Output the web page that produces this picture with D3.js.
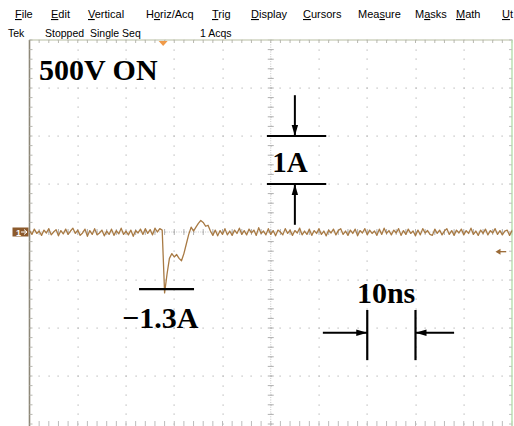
<!DOCTYPE html>
<html><head><meta charset="utf-8">
<script src="https://cdn.jsdelivr.net/npm/d3@7"></script>
<style>
html,body{margin:0;padding:0;background:#fff;}
svg{display:block;}
</style></head>
<body>
<svg id="c" width="514" height="426"></svg>
<script>
// ---------------- data ----------------
const menuItems = ["File","Edit","Vertical","Horiz/Acq","Trig","Display","Cursors","Measure","Masks","Math","Ut"];
const menuX = [15,51,88,146,212,251,303,358,415,456,502];
const menuUnderline = [0,0,0,1,0,0,0,3,1,0,0];
const statusItems = ["Tek","Stopped  Single Seq","1 Acqs"];
const statusX = [8,45,200];

const timeDomain = [0,100];      // ns, 10 ns/div, 10 divisions
const currentDomain = [-4,4];    // A, 1 A/div, 8 divisions
const sampleStep = 0.5;          // ns between samples
const current = [
 0.03,-0.05,0.06,-0.03,0.02,-0.07,0.04,-0.02,0.07,-0.06,
 0.00,0.05,-0.08,0.03,-0.04,0.06,-0.05,0.02,0.08,-0.03,
 0.04,-0.07,-0.02,0.06,-0.09,0.03,-0.05,0.07,-0.06,-0.02,
 0.04,-0.08,0.02,-0.05,0.06,-0.07,0.03,-0.04,0.08,-0.05,
 0.02,-0.06,0.04,-0.09,0.03,-0.02,0.06,-0.05,0.07,-0.03,
 0.05,-0.06,0.08,0.00,0.07,0.04,
 -1.27,-0.88,-0.55,-0.45,-0.52,-0.47,-0.55,-0.60,-0.45,-0.25,-0.05,0.10,0.02,0.10,0.18,0.24,0.20,0.12,0.14,0.02,-0.07,
 0.04,-0.08,0.03,-0.05,0.07,-0.06,0.02,-0.07,0.04,-0.03,
 0.08,-0.05,0.03,-0.06,0.06,-0.02,0.04,-0.07,0.09,-0.03,
 0.02,-0.06,0.07,-0.05,0.03,-0.08,0.04,0.00,-0.06,0.07,
 -0.03,0.04,-0.07,0.03,-0.02,0.08,-0.06,0.02,-0.05,0.06,
 -0.07,0.03,-0.03,0.07,-0.05,0.02,-0.08,0.04,-0.02,0.06,
 -0.06,0.03,0.07,-0.05,0.02,-0.07,0.04,-0.03,0.06,-0.08,
 0.03,-0.02,0.07,-0.06,0.04,-0.03,0.02,-0.07,0.06,-0.05,
 0.08,-0.03,0.03,-0.06,0.04,-0.02,0.07,-0.07,0.03,-0.05,
 0.06,-0.03,0.02,-0.08,0.04,-0.06,0.07,-0.02,0.03,-0.05,
 -0.07,0.06,-0.03,0.04,-0.06,0.02,0.07,-0.05,0.03,-0.07,
 0.04,-0.02,0.06,-0.06,0.03,-0.03,0.08,-0.05,0.02,-0.07,
 0.04,-0.03,0.06,-0.06,0.03,-0.02,0.07,-0.05,0.03,-0.06,
 0.02,0.04,-0.07,0.03
];
const triggerTime = 27.7;

// ---------------- layout ----------------
const svg = d3.select("#c");
const x = d3.scaleLinear().domain(timeDomain).range([29.5,512]);
const y = d3.scaleLinear().domain(currentDomain).range([424,40]);

svg.append("rect").attr("width",514).attr("height",426).attr("fill","#fff");

// menu bar
const menu = svg.append("g").attr("font-family","Liberation Sans, Arial, sans-serif").attr("font-size",11).attr("fill","#000");
menuItems.forEach((m,i)=>{
  const t = menu.append("text").attr("x",menuX[i]).attr("y",18);
  const u = menuUnderline[i];
  if(u>0) t.append("tspan").text(m.slice(0,u));
  t.append("tspan").attr("text-decoration","underline").text(m.slice(u,u+1));
  t.append("tspan").text(m.slice(u+1));
});
const stat = svg.append("g").attr("font-family","Liberation Sans, Arial, sans-serif").attr("font-size",10.5).attr("fill","#000");
statusItems.forEach((s,i)=>{
  stat.append("text").attr("x",statusX[i]).attr("y",37).attr("xml:space","preserve").style("white-space","pre").text(s);
});

// graticule
const grid = svg.append("g");
const dotColor = "#b8b8b8";
const majorT = d3.range(timeDomain[0], timeDomain[1]+0.001, 10);
const majorI = d3.range(currentDomain[0], currentDomain[1]+0.001, 1);
const minorT = d3.range(timeDomain[0], timeDomain[1]+0.001, 2);
const minorI = d3.range(currentDomain[0], currentDomain[1]+0.001, 0.2);
majorT.slice(1,-1).forEach(t=>{
  minorI.forEach(v=>{
    grid.append("rect").attr("x",Math.round(x(t))-0.5).attr("y",Math.round(y(v))-0.5).attr("width",1.2).attr("height",1.2).attr("fill",dotColor);
  });
});
majorI.slice(1).forEach(v=>{
  minorT.forEach(t=>{
    grid.append("rect").attr("x",Math.round(x(t))-0.5).attr("y",Math.round(y(v))-0.5).attr("width",1.2).attr("height",1.2).attr("fill",dotColor);
  });
});
const fineI = d3.range(currentDomain[0], currentDomain[1]+0.001, 0.05);
const fineT = d3.range(timeDomain[0], timeDomain[1]+0.001, 0.5);
fineI.forEach(v=>grid.append("rect").attr("x",x(50)-0.5).attr("y",y(v)-0.5).attr("width",1).attr("height",1).attr("fill","#c4c4c4"));
fineT.forEach(t=>grid.append("rect").attr("x",x(t)-0.5).attr("y",y(0)-0.5).attr("width",1).attr("height",1).attr("fill","#c4c4c4"));
minorI.forEach(v=>grid.append("line").attr("x1",x(50)-3).attr("x2",x(50)+3).attr("y1",y(v)).attr("y2",y(v)).attr("stroke","#b0b0b0").attr("stroke-width",1));
minorT.forEach(t=>grid.append("line").attr("x1",x(t)).attr("x2",x(t)).attr("y1",y(0)-3).attr("y2",y(0)+3).attr("stroke","#b0b0b0").attr("stroke-width",1));
grid.append("line").attr("x1",x(0)).attr("x2",x(100)).attr("y1",y(4)).attr("y2",y(4)).attr("stroke","#cfd3c0").attr("stroke-width",1.5);
minorT.forEach(t=>grid.append("line").attr("x1",x(t)).attr("x2",x(t)).attr("y1",y(4)).attr("y2",y(4)+3).attr("stroke","#b8b8b0").attr("stroke-width",1));
minorT.forEach(t=>grid.append("line").attr("x1",x(t)).attr("x2",x(t)).attr("y1",y(-4)-3).attr("y2",y(-4)+2).attr("stroke","#bcbcbc").attr("stroke-width",1));
grid.append("line").attr("x1",x(0)).attr("x2",x(0)).attr("y1",y(4)).attr("y2",426).attr("stroke","#8e8878").attr("stroke-width",1.6);
minorI.forEach(v=>grid.append("line").attr("x1",x(0)).attr("x2",x(0)+3).attr("y1",y(v)).attr("y2",y(v)).attr("stroke","#b8b8b0").attr("stroke-width",1));
grid.append("line").attr("x1",x(100)).attr("x2",x(100)).attr("y1",y(4)).attr("y2",426).attr("stroke","#bfe3b6").attr("stroke-width",1.6);
minorI.forEach(v=>grid.append("line").attr("x1",x(100)-3).attr("x2",x(100)).attr("y1",y(v)).attr("y2",y(v)).attr("stroke","#c0c0c0").attr("stroke-width",1));

// trigger marker (top)
const tx = x(triggerTime);
svg.append("path").attr("d",`M${tx-4.5},${y(4)+1}L${tx+4.5},${y(4)+1}L${tx},${y(4)+6}Z`).attr("fill","#f09a48");

// channel 1 marker (left)
const cy = y(0);
svg.append("rect").attr("x",12.5).attr("y",cy-4.5).attr("width",16).attr("height",9).attr("fill","#8c5a2c");
svg.append("text").attr("x",16).attr("y",cy+3.5).attr("font-family","Liberation Sans, Arial, sans-serif").attr("font-size",9).attr("font-weight","bold").attr("fill","#fff").text("1");
svg.append("path").attr("d",`M21,${cy}L27,${cy}M24,${cy-2.5}L27,${cy}L24,${cy+2.5}`).attr("stroke","#fff").attr("stroke-width",1).attr("fill","none");

// right-side arrow marker
const ry = y(-0.41);
svg.append("path").attr("d",`M${x(98.8)},${ry}L${x(97.2)-1},${ry}`).attr("stroke","#9a6a36").attr("stroke-width",1.3);
svg.append("path").attr("d",`M${x(97.2)-3},${ry}L${x(97.2)+2},${ry-3}L${x(97.2)+2},${ry+3}Z`).attr("fill","#9a6a36");

// trace
const line = d3.line().x((d,i)=>x(i*sampleStep)).y(d=>y(d));
svg.append("path").datum(current).attr("d",line).attr("fill","none").attr("stroke","#a87a44").attr("stroke-width",1.3).attr("stroke-linejoin","round");

// ---------------- annotations ----------------
const ann = svg.append("g").attr("fill","#000");
const serif = "Liberation Serif, Times New Roman, serif";
ann.append("text").attr("x",39).attr("y",80).attr("font-family",serif).attr("font-weight","bold").attr("font-size",30).text("500V ON");

function arrow(x1,y1,x2,y2){
  ann.append("line").attr("x1",x1).attr("y1",y1).attr("x2",x2).attr("y2",y2).attr("stroke","#000").attr("stroke-width",2);
  const a = Math.atan2(y2-y1,x2-x1), L=11, W=3.2;
  const bx = x2-L*Math.cos(a), by = y2-L*Math.sin(a);
  const px = -Math.sin(a)*W, py = Math.cos(a)*W;
  ann.append("path").attr("d",`M${x2},${y2}L${bx+px},${by+py}L${bx-px},${by-py}Z`).attr("fill","#000");
}
const ax = x(55);
ann.append("line").attr("x1",x(49.2)).attr("x2",x(61.5)).attr("y1",y(2)).attr("y2",y(2)).attr("stroke","#000").attr("stroke-width",2.2);
ann.append("line").attr("x1",x(49.2)).attr("x2",x(61.5)).attr("y1",y(1)).attr("y2",y(1)).attr("stroke","#000").attr("stroke-width",2.2);
arrow(ax,y(2.85),ax,y(2));
arrow(ax,y(0.15),ax,y(1));
ann.append("text").attr("x",x(54)).attr("y",y(1.25)).attr("text-anchor","middle").attr("font-family",serif).attr("font-weight","bold").attr("font-size",29).text("1A");

ann.append("line").attr("x1",x(22.7)).attr("x2",x(34.1)).attr("y1",y(-1.19)).attr("y2",y(-1.19)).attr("stroke","#000").attr("stroke-width",2.2);
ann.append("text").attr("x",x(27.1)).attr("y",y(-2)).attr("text-anchor","middle").attr("font-family",serif).attr("font-weight","bold").attr("font-size",30).text("\u22121.3A");

ann.append("text").attr("x",x(73.9)).attr("y",y(-1.48)).attr("text-anchor","middle").attr("font-family",serif).attr("font-weight","bold").attr("font-size",30).text("10ns");
[70,80].forEach(t=>ann.append("line").attr("x1",x(t)).attr("x2",x(t)).attr("y1",y(-1.625)).attr("y2",y(-2.67)).attr("stroke","#000").attr("stroke-width",2.2));
arrow(x(60.8),y(-2.1),x(70),y(-2.1));
arrow(x(88),y(-2.1),x(80),y(-2.1));
</script>
</body></html>
